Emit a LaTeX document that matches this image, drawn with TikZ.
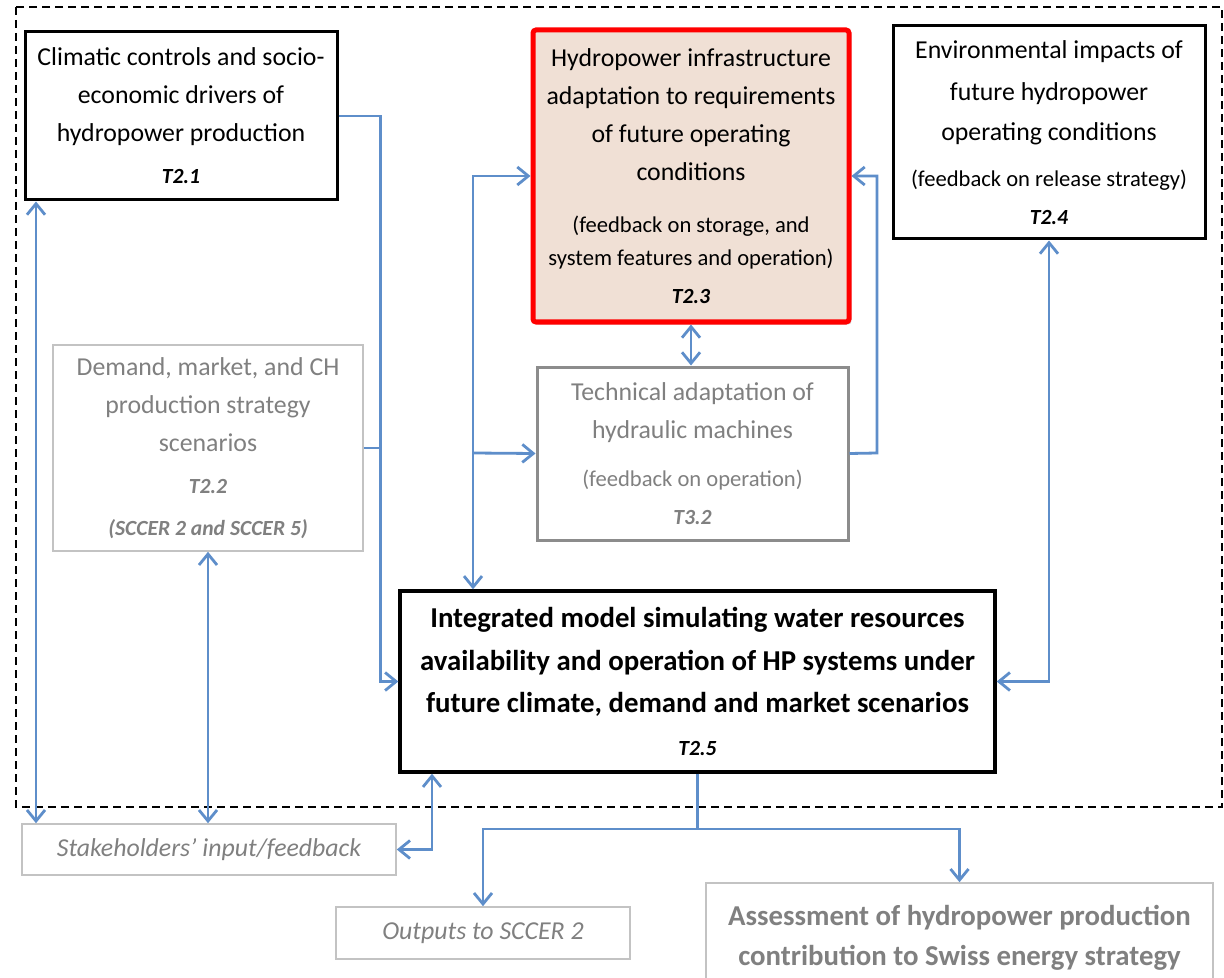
\documentclass[tikz,border=0pt]{standalone}
\usepackage{fontspec}
\setmainfont{Carlito}
\usetikzlibrary{arrows.meta,shadows,calc}
\definecolor{connblue}{RGB}{94,142,202}
\definecolor{txtgray}{RGB}{128,128,128}
\definecolor{boxgray}{RGB}{195,195,195}
\definecolor{boxgrayd}{RGB}{140,140,140}
\definecolor{beige}{RGB}{240,224,213}
\definecolor{redbox}{RGB}{255,0,0}
\newcommand\mainsz{\fontsize{12.9}{19}\selectfont}
\newcommand\parsz{\fontsize{11.3}{16.5}\selectfont}
\newcommand\labsz{\fontsize{10.8}{13}\selectfont\bfseries\itshape}
\newcommand\bigsz{\fontsize{14.4}{21.25}\selectfont\bfseries}
\begin{document}
\begin{tikzpicture}[x=0.5pt,y=-0.5pt,
  blackbox/.style={draw=black, line width=1.5pt, fill=white, inner sep=0pt, align=center, font=\mainsz},
  redbox/.style={draw=redbox, line width=2.5pt, fill=beige, rounded corners=1.5pt, inner sep=0pt, align=center, font=\mainsz,
     drop shadow={opacity=0.35, shadow xshift=1.2pt, shadow yshift=-1.2pt}},
  graybox/.style={draw=boxgray, line width=0.8pt, fill=white, inner sep=0pt, align=center, font=\mainsz, text=txtgray},
  grayboxd/.style={draw=boxgrayd, line width=1.5pt, fill=white, inner sep=0pt, align=center, font=\mainsz, text=txtgray},
  conn/.style={draw=connblue, line width=1.4pt},
  tip/.tip={Straight Barb[length=5.5pt,width=9pt]},
  frame/.style={draw=black, line width=0.6pt, dash pattern=on 4pt off 2.5pt}
]
\clip (0,0) rectangle (1224,978);
\fill[white] (0,0) rectangle (1224,978);

% dashed frame
\draw[frame] (16,7) rectangle (1222,807);

% boxes
\node[blackbox, minimum width=156pt, minimum height=84pt] (t21) at (181,116)
  {Climatic controls and socio-\\economic drivers of\\hydropower production\\[2pt]{\labsz T2.1}};

\node[redbox, minimum width=158pt, minimum height=146pt] (t23) at (691,176)
  {Hydropower infrastructure\\adaptation to requirements\\of future operating\\conditions\\[7pt]
   {\parsz (feedback on storage, and}\\[-2.5pt]{\parsz system features and operation)}\\[0pt]{\labsz T2.3}};

\node[blackbox, minimum width=156pt, minimum height=106.5pt] (t24) at (1049,132.5)
  {Environmental impacts of\\[2pt]future hydropower\\[1pt]operating conditions\\[4pt]{\parsz (feedback on release strategy)}\\[0pt]{\labsz T2.4}};

\node[graybox, minimum width=155pt, minimum height=103pt] (t22) at (208,448)
  {Demand, market, and CH\\production strategy\\scenarios\\[2pt]{\labsz T2.2}\\[2pt]{\labsz (SCCER 2 and SCCER 5)}};

\node[grayboxd, minimum width=155.5pt, minimum height=86.5pt] (t32) at (692.5,453.5)
  {Technical adaptation of\\hydraulic machines\\[5pt]{\parsz (feedback on operation)}\\[0pt]{\labsz T3.2}};

\node[blackbox, line width=1.7pt, minimum width=297.5pt, minimum height=90.5pt, font=\bigsz] (t25) at (697.5,681.5)
  {Integrated model simulating water resources\\availability and operation of HP systems under\\future climate, demand and market scenarios\\[0pt]{\labsz T2.5}};

\node[graybox, minimum width=187pt, minimum height=25.5pt, font=\mainsz\itshape] (stake) at (209,849.5)
  {Stakeholders’ input/feedback};

\node[graybox, minimum width=147pt, minimum height=26pt, font=\mainsz\itshape] (out) at (483,933)
  {Outputs to SCCER 2};

\node[graybox, minimum width=253.5pt, minimum height=55pt, font=\fontsize{14.4}{20}\selectfont\bfseries] (assess) at (959.5,938)
  {Assessment of hydropower production\\contribution to Swiss energy strategy};

% junction coordinates
\coordinate (jl) at (382,114);
\coordinate (jm) at (473,453);
\coordinate (jr) at (877,453);
\coordinate (ls) at (36,849);
\coordinate (bs) at (432,849);
\coordinate (bj) at (697,829);

% connectors
\draw[conn,-tip] (t21.east) -| ($(t25.west)+(-18,0)$) -- (t25.west);
\draw[conn] (t22.east) -- (t22.east -| jl);
\draw[conn,-tip] (jm) |- (t23.west);
\draw[conn,-tip] (jm) -- (t32.west);
\draw[conn,-tip] (jm) -- (jm |- t25.north);
\draw[conn,-tip] (t32.east) -- (jr) |- (t23.east);
\draw[conn,tip-tip] (t23.south) -- (t23.south |- t32.north);
\draw[conn,tip-tip] (t24.south) |- (t25.east);
\draw[conn,tip-tip] (ls |- t21.south) -- (ls |- stake.north);
\draw[conn,tip-tip] (t22.south) -- (t22.south |- stake.north);
\draw[conn,tip-tip] (bs |- t25.south) |- (stake.east);
\draw[conn] (t25.south) -- (t25.south |- bj);
\draw[conn,-tip] (t25.south |- bj) -| (out.north);
\draw[conn,-tip] (t25.south |- bj) -| (assess.north);
\end{tikzpicture}
\end{document}
